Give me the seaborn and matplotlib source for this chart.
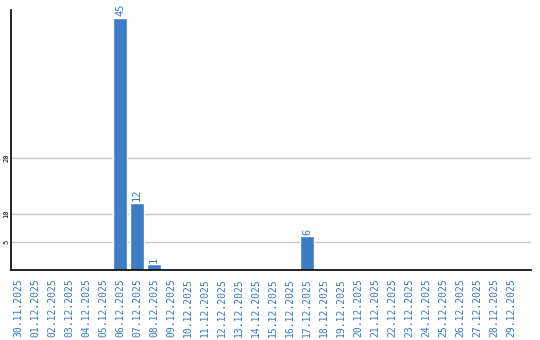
import matplotlib
matplotlib.use("Agg")
import matplotlib.pyplot as plt
import seaborn as sns
import pandas as pd

dates = ["30.11.2025", "01.12.2025", "02.12.2025", "03.12.2025", "04.12.2025",
         "05.12.2025", "06.12.2025", "07.12.2025", "08.12.2025", "09.12.2025",
         "10.12.2025", "11.12.2025", "12.12.2025", "13.12.2025", "14.12.2025",
         "15.12.2025", "16.12.2025", "17.12.2025", "18.12.2025", "19.12.2025",
         "20.12.2025", "21.12.2025", "22.12.2025", "23.12.2025", "24.12.2025",
         "25.12.2025", "26.12.2025", "27.12.2025", "28.12.2025", "29.12.2025"]
counts = [0, 0, 0, 0, 0, 0, 45, 12, 1, 0,
          0, 0, 0, 0, 0, 0, 0, 6, 0, 0,
          0, 0, 0, 0, 0, 0, 0, 0, 0, 0]
yticks = [5, 10, 20]

bar_color = "#3d7dc3"
text_color = "#3a78c0"

sns.set_style("white")
plt.rcParams["font.family"] = ["DejaVu Sans Mono", "DejaVu Sans"]

df = pd.DataFrame({"date": dates, "count": counts})

fig = plt.figure(figsize=(5.4, 3.4), dpi=100)
ax = fig.add_axes([10.5 / 540, 70 / 340, 520.5 / 540, 260 / 340])

sns.barplot(data=df, x="date", y="count", color=bar_color, width=0.82,
            saturation=1, ax=ax, order=dates)

ax.set_ylim(0, 46.4)
ax.set_xlim(-0.44, 30.18)
ax.set_yticks(yticks)
ax.set_yticklabels([str(t) for t in yticks], rotation=90, va="center",
                   fontsize=5, color="black")
ax.set_xticks(range(len(dates)))
ax.set_xticklabels(dates, rotation=90, fontsize=7, color=text_color)
ax.tick_params(axis="y", length=0, pad=1)
ax.tick_params(axis="x", length=0, pad=6)
ax.set_xlabel("")
ax.set_ylabel("")

ax.yaxis.grid(True, color="#c8c8c8", linewidth=1)
ax.set_axisbelow(True)
for s in ["top", "right"]:
    ax.spines[s].set_visible(False)
for s in ["left", "bottom"]:
    ax.spines[s].set_color("black")
    ax.spines[s].set_linewidth(1.2)

labels = [str(v) if v > 0 else "" for v in counts]
ax.bar_label(ax.containers[0], labels=labels, rotation=90, fontsize=7.5,
             color=text_color, padding=1, clip_on=False)

fig.savefig("out.png", dpi=100)
